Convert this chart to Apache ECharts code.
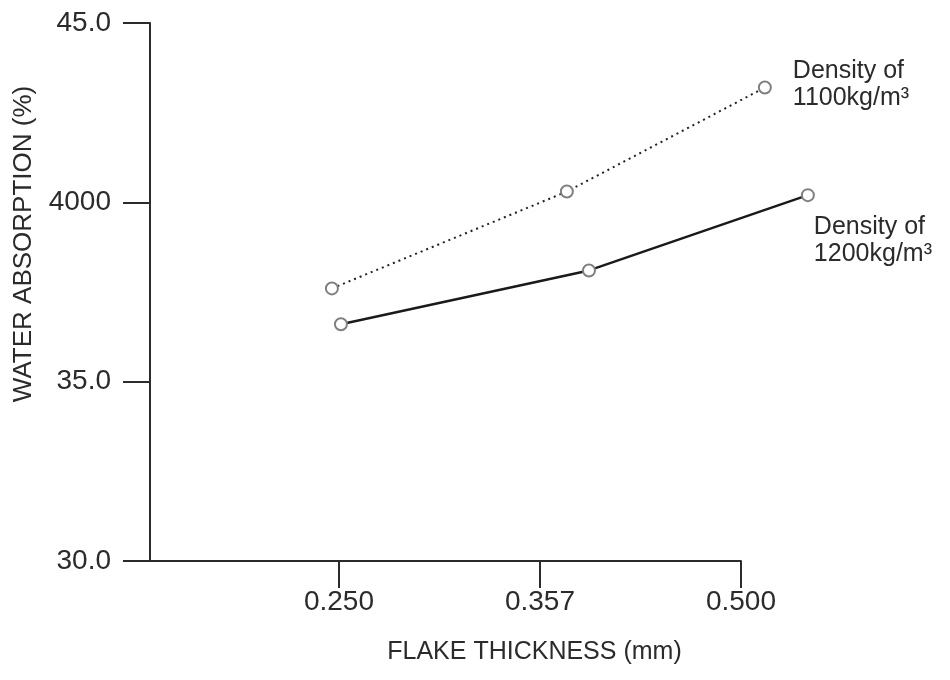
<!DOCTYPE html>
<html>
<head>
<meta charset="utf-8">
<title>Water absorption vs flake thickness</title>
<script src="https://cdn.jsdelivr.net/npm/echarts@6/dist/echarts.min.js"></script>
<style>
  html, body { margin: 0; padding: 0; background: #fff; }
  #main { width: 950px; height: 680px; }
</style>
</head>
<body>
<div id="main"></div>
<script>
// tick positions on the x axis and what they are labelled
var xTickPos = [1, 2, 3];
var xTickLabels = ["0.250", "0.357", "0.500"];

var yTicks = [30, 35, 40, 45];
var yTickLabels = ["30.0", "35.0", "4000", "45.0"];

// density 1100 kg/m3 (dotted)
var x1100 = [0.965, 2.134, 3.119];
var y1100 = [37.6, 40.3, 43.2];

// density 1200 kg/m3 (solid)
var x1200 = [1.01, 2.244, 3.333];
var y1200 = [36.6, 38.1, 40.2];

var seriesNames = ["Density of\n1100kg/m³", "Density of\n1200kg/m³"];

var font = "'Liberation Sans', Arial, sans-serif";
var ink = "#2b2b2b";

// px per x unit, the plotted points run past the drawn axis end
var unitPx = 201;
var xMin = 0.06;
var xMaxAxis = 3;
var xMaxData = 3.5;

function toPoints(xs, ys, labelOffset) {
  var arr = [];
  for (var i = 0; i < xs.length; i++) {
    var item = { value: [xs[i], ys[i]] };
    if (i == xs.length - 1) {
      item.label = {
        show: true,
        position: "right",
        distance: 5,
        offset: labelOffset,
        formatter: "{a}",
        color: ink,
        fontFamily: font,
        fontSize: 25,
        lineHeight: 27,
        align: "left",
      };
    }
    arr.push(item);
  }
  return arr;
}

var chartDom = document.getElementById("main");
var myChart = echarts.init(chartDom);
var option;
option = {
  animation: false,
  backgroundColor: "#fff",
  grid: [
    {
      left: 150,
      width: (xMaxAxis - xMin) * unitPx,
      top: 23,
      bottom: 119,
      outerBoundsMode: "none",
      containLabel: false,
    },
    {
      left: 150,
      width: (xMaxData - xMin) * unitPx,
      top: 23,
      bottom: 119,
      outerBoundsMode: "none",
      containLabel: false,
    },
  ],
  xAxis: [
    {
      type: "value",
      gridIndex: 0,
      min: xMin,
      max: xMaxAxis,
      name: "FLAKE THICKNESS (mm)",
      nameLocation: "middle",
      nameGap: 79,
      nameTextStyle: {
        color: ink,
        fontFamily: font,
        fontSize: 25,
        padding: [0, 0, 0, 178],
      },
      axisLine: {
        show: true,
        onZero: false,
        lineStyle: { color: ink, width: 2 },
      },
      axisTick: {
        show: true,
        length: 27,
        customValues: xTickPos,
        lineStyle: { color: ink, width: 2 },
      },
      axisLabel: {
        margin: 27,
        customValues: xTickPos,
        color: ink,
        fontFamily: font,
        fontSize: 28,
        formatter: function (v) {
          var i = xTickPos.indexOf(v);
          return i >= 0 ? xTickLabels[i] : "";
        },
      },
      splitLine: { show: false },
    },
    {
      type: "value",
      gridIndex: 1,
      min: xMin,
      max: xMaxData,
      show: false,
    },
  ],
  yAxis: [
    {
      type: "value",
      gridIndex: 0,
      min: 30,
      max: 45,
      interval: 5,
      name: "WATER ABSORPTION (%)",
      nameLocation: "middle",
      nameGap: 113,
      nameTextStyle: {
        color: ink,
        fontFamily: font,
        fontSize: 26,
        padding: [0, 0, 0, 96],
      },
      axisLine: {
        show: true,
        lineStyle: { color: ink, width: 2 },
      },
      axisTick: {
        show: true,
        length: 27,
        lineStyle: { color: ink, width: 2 },
      },
      axisLabel: {
        margin: 39,
        color: ink,
        fontFamily: font,
        fontSize: 28,
        formatter: function (v) {
          var i = yTicks.indexOf(v);
          return i >= 0 ? yTickLabels[i] : "";
        },
      },
      splitLine: { show: false },
    },
    {
      type: "value",
      gridIndex: 1,
      min: 30,
      max: 45,
      show: false,
    },
  ],
  series: [
    {
      name: seriesNames[0],
      type: "line",
      xAxisIndex: 1,
      yAxisIndex: 1,
      symbol: "emptyCircle",
      symbolSize: 12,
      itemStyle: { color: "#808080", borderWidth: 1.2 },
      lineStyle: { color: "#222", width: 2, type: [2, 4] },
      data: toPoints(x1100, y1100, [16, -3]),
      z: 3,
    },
    {
      name: seriesNames[1],
      type: "line",
      xAxisIndex: 1,
      yAxisIndex: 1,
      symbol: "emptyCircle",
      symbolSize: 12,
      itemStyle: { color: "#808080", borderWidth: 1.2 },
      lineStyle: { color: "#1a1a1a", width: 2.4 },
      data: toPoints(x1200, y1200, [-6, 45]),
      z: 3,
    },
  ],
};
option && myChart.setOption(option);
</script>
</body>
</html>
